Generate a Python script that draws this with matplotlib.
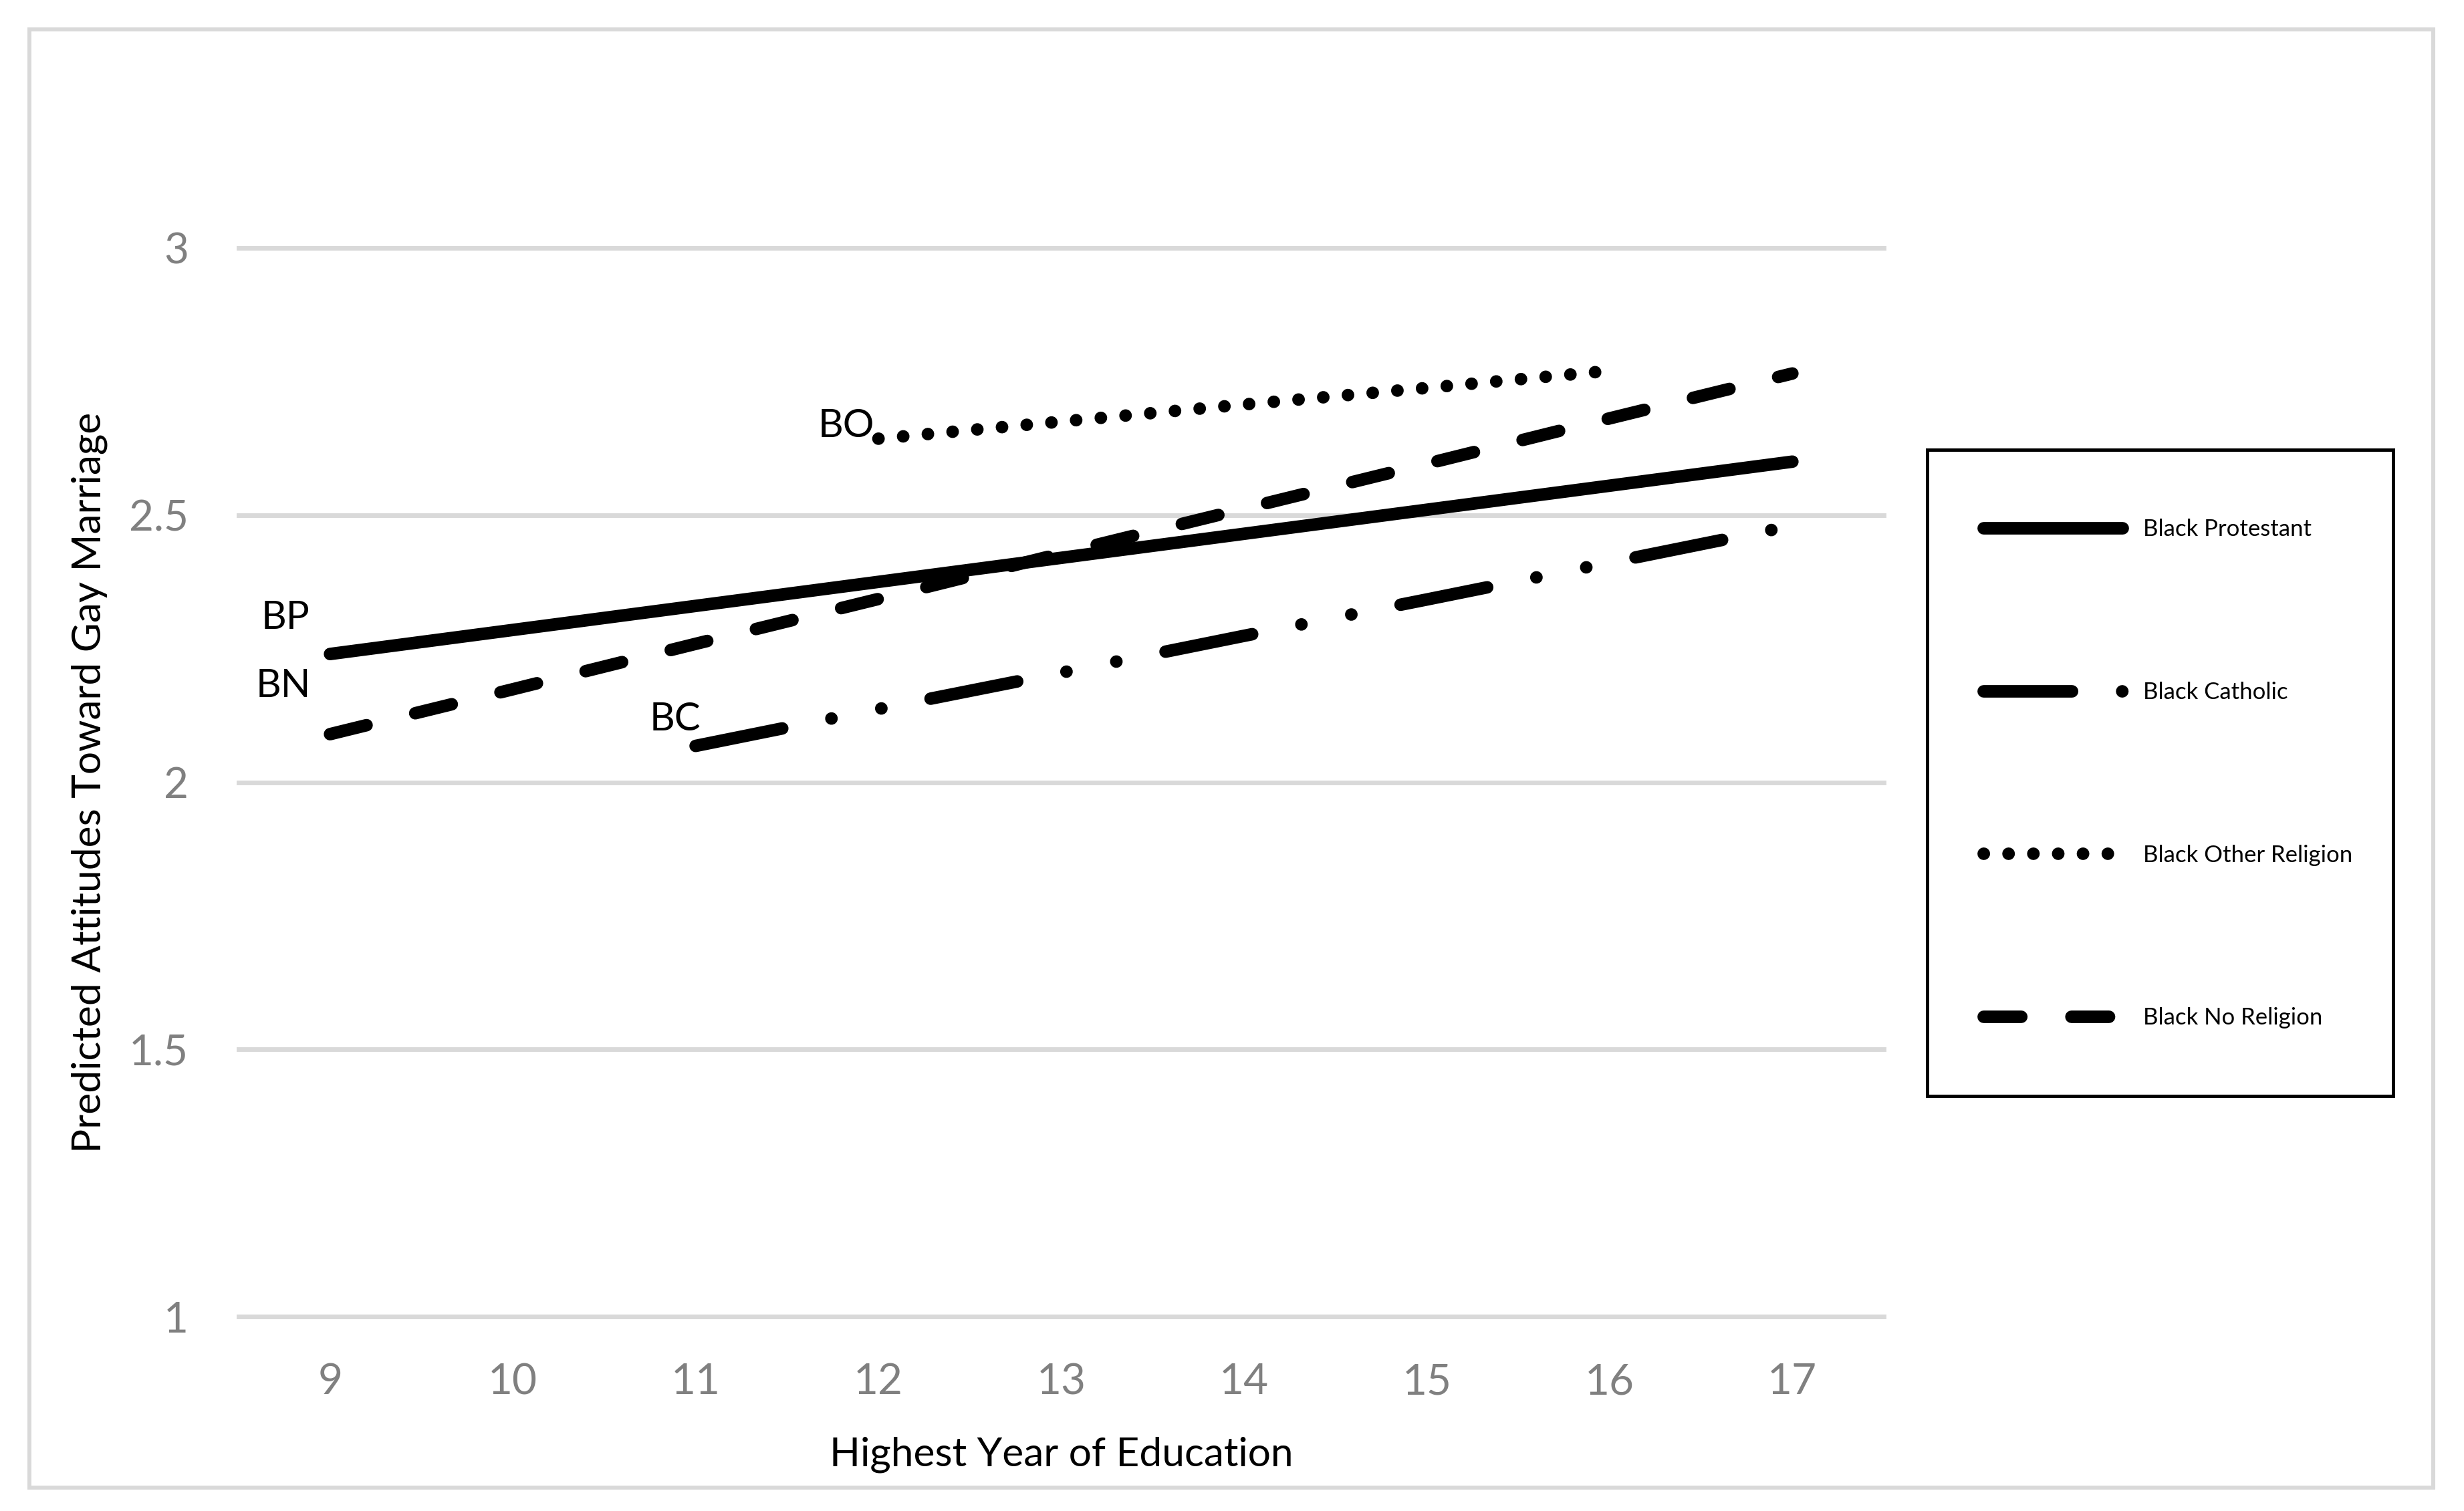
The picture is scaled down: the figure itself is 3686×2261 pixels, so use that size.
import numpy as np
import matplotlib.pyplot as plt
from matplotlib.patches import Rectangle

plt.rcParams['font.family'] = ['Lato', 'DejaVu Sans']

# values (predicted attitudes at each year of education)
years = [9, 10, 11, 12, 13, 14, 15, 16, 17]
black_protestant = [2.240, 2.285, 2.330, 2.375, 2.420, 2.465, 2.510, 2.555, 2.600]
black_catholic = [None, None, 2.068, 2.137, 2.205, 2.274, 2.342, 2.411, 2.480]
black_other = [None, None, None, 2.643, 2.675, 2.707, 2.738, 2.770, None]
black_none = [2.090, 2.174, 2.259, 2.343, 2.428, 2.512, 2.596, 2.681, 2.765]

names = ['Black Protestant', 'Black Catholic', 'Black Other Religion', 'Black No Religion']
short = ['BP', 'BC', 'BO', 'BN']
series = [black_protestant, black_catholic, black_other, black_none]

y_ticks = [1, 1.5, 2, 2.5, 3]
y_tick_labels = ['1', '1.5', '2', '2.5', '3']

# line styles (dash lengths in line widths)
styles = ['-',
          (0, (7.05, 4.0, 0.01, 4.05, 0.01, 4.0)),
          (0, (0.01, 1.97)),
          (0, (3.0, 4.0))]
# label offsets (points) from the first point of each line
offsets = [(-48, 27), (-22, 17), (-35, 2), (-50, 40)]

W, H = 3687, 2261
fig = plt.figure(figsize=(W / 100, H / 100), dpi=100)
ax = fig.add_axes([357 / W, 1 - 1970 / H, (2818 - 357) / W, (1970 - 371) / H])

x = np.array(years, dtype=float)
handles = []
for name, lab, vals, ls, off in zip(names, short, series, styles, offsets):
    y = np.array(vals, dtype=float)
    m = ~np.isnan(y)
    ln, = ax.plot(x[m], y[m], color='black', lw=13.5, linestyle=ls,
                  solid_capstyle='round', dash_capstyle='round', label=name,
                  clip_on=False)
    handles.append(ln)
    ax.annotate(lab, xy=(x[m][0], y[m][0]), xytext=off, textcoords='offset points',
                ha='center', va='baseline', fontsize=42, color='black')

ax.set_xlim(8.5, 17.5)
ax.set_ylim(1, 3)
ax.set_xticks(years)
ax.set_xticklabels([str(v) for v in years])
ax.set_yticks(y_ticks)
ax.set_yticklabels(y_tick_labels)
ax.tick_params(length=0, labelsize=46, labelcolor='#808080')
ax.tick_params(axis='x', pad=50)
ax.tick_params(axis='y', pad=54)
for s in ax.spines.values():
    s.set_visible(False)
ax.grid(axis='y', color='#d9d9d9', lw=5)
ax.grid(axis='x', visible=False)
ax.set_axisbelow(True)
for gl in ax.get_ygridlines():
    gl.set_clip_on(False)

ax.set_xlabel('Highest Year of Education', fontsize=43.5, color='black')
ax.xaxis.set_label_coords(0.5, -(2193 - 1970) / 1599)
ax.xaxis.label.set_verticalalignment('baseline')
ax.set_ylabel('Predicted Attitudes Toward Gay Marriage', fontsize=43.5, color='black')
ax.yaxis.set_label_coords((134 - 357) / 2461, 0.5)
ax.yaxis.label.set_verticalalignment('center')

ax.legend(handles=handles, loc='upper left', bbox_to_anchor=(2967 / W, 1 - 776 / H),
          bbox_transform=fig.transFigure, frameon=False, borderpad=0, borderaxespad=0,
          handlelength=6.0, handletextpad=0.88, labelspacing=6.1, fontsize=25)

# legend frame and outer chart border
fig.patches.append(Rectangle((2883 / W, 1 - 1640 / H), (3580 - 2883) / W, (1640 - 673) / H,
                             transform=fig.transFigure, fill=False, ec='black', lw=3.6))
fig.patches.append(Rectangle((44 / W, 1 - 2226 / H), (3640 - 44) / W, (2226 - 44) / H,
                             transform=fig.transFigure, fill=False, ec='#d9d9d9', lw=4.3))

fig.savefig('out.png', dpi=100)
